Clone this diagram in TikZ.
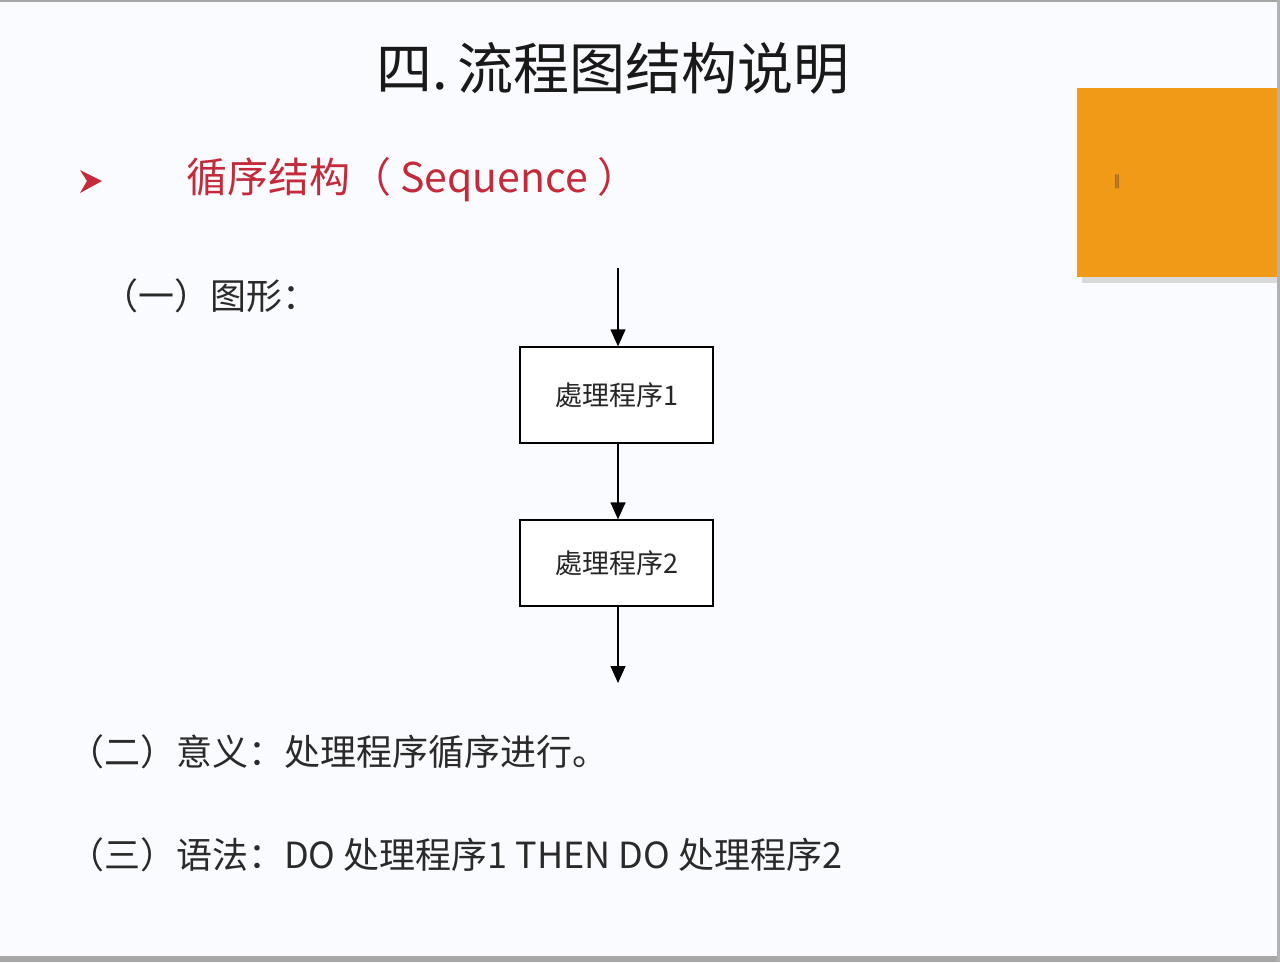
\documentclass[tikz,border=0pt]{standalone}
\usepackage{fontspec}
\newfontfamily\cjk{Noto Sans CJK SC}
\newfontfamily\dejavu{DejaVu Sans}
\usetikzlibrary{arrows.meta}
\definecolor{bgc}{HTML}{FAFBFE}
\definecolor{redc}{HTML}{C42A3A}
\definecolor{txtc}{HTML}{2A2A2A}
\definecolor{orangec}{HTML}{F09A17}
\tikzset{
  proc/.style={draw=black, line width=1.3pt, fill=white, minimum width=193pt, minimum height=96pt, inner sep=0pt, font=\cjk\fontsize{27}{27}\selectfont, text=black!85},
  flow/.style={draw=black, line width=1.3pt, -{Triangle[length=17pt,width=15pt]}},
  body/.style={anchor=west, inner sep=0pt, text=txtc, font=\cjk\fontsize{36}{36}\selectfont}
}
\begin{document}
\begin{tikzpicture}[x=1pt,y=-1pt]
\useasboundingbox (0,0) rectangle (1280,962);
\fill[bgc] (0,0) rectangle (1280,962);
\fill[gray!70] (0,0) rectangle (1280,2);
\fill[gray!70] (0,956) rectangle (1280,962);
\fill[gray!60] (1277,0) rectangle (1280,962);
% orange box with shadow
\fill[black!15] (1082,92) rectangle (1277,283);
\fill[orangec] (1077,88) rectangle (1277,277);
\node[text=brown!70!black, font=\dejavu\fontsize{14}{14}\selectfont, inner sep=0pt] (mark) at (1117,182) {‖};
% title
\node[font=\cjk\fontsize{56}{56}\selectfont, text=black!90, inner sep=0pt] (title) at (613,68) {四.\,流程图结构说明};
% bullet
\fill[redc] (80,170) -- (102,181) -- (80,193) -- (87,181) -- cycle;
\node[anchor=west, inner sep=0pt, text=redc, font=\cjk\fontsize{41}{41}\selectfont] (head) at (186,180) {循序结构（ Sequence ）};
\node[body] (t1) at (102,296) {（一）图形：};
% flow chart
\coordinate (in) at (618,268);
\node[proc] (p1) at (616.5,395) {處理程序1};
\node[proc] (p2) at (616.5,563) [minimum height=86pt] {處理程序2};
\coordinate (out) at (618,683);
\draw[flow] (in) -- (in |- p1.north);
\draw[flow] (p1.south -| in) -- (p2.north -| in);
\draw[flow] (p2.south -| in) -- (out);
% bottom texts
\node[body] (t2) at (68,752) {（二）意义：处理程序循序进行。};
\node[body] (t3) at (68,855) {（三）语法：DO 处理程序1 THEN DO 处理程序2};
\end{tikzpicture}
\end{document}
